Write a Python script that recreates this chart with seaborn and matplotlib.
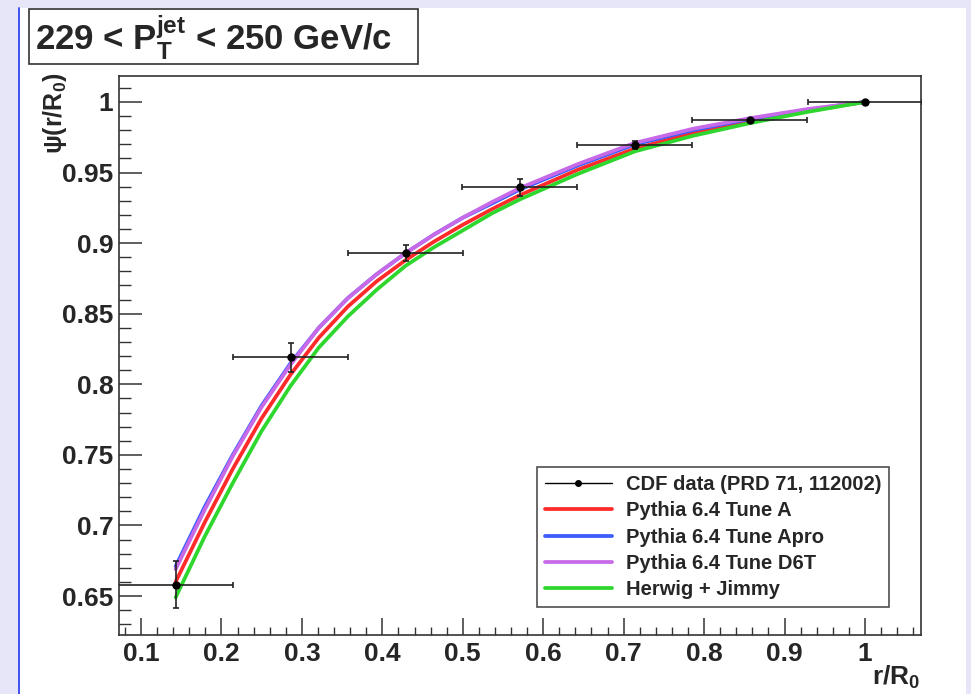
import numpy as np
import pandas as pd
import seaborn as sns
import matplotlib
matplotlib.use("Agg")
import matplotlib.pyplot as plt
from matplotlib.patches import Rectangle
from matplotlib.lines import Line2D
from matplotlib.ticker import MultipleLocator, FuncFormatter

# ---- CDF data: integrated jet shape, 229 < pT < 250 GeV/c ----
data_r = [0.143, 0.286, 0.429, 0.571, 0.714, 0.857, 1.0]
data_psi = [0.658, 0.819, 0.893, 0.9395, 0.9695, 0.987, 1.0]
data_psi_err = [0.0167, 0.0105, 0.006, 0.0058, 0.003, 0.0012, 0.0]
data_r_err = [0.0714, 0.0714, 0.0714, 0.0714, 0.0714, 0.0714, 0.0714]

# ---- Monte Carlo predictions ----
mc_r = [0.143, 0.179, 0.214, 0.25, 0.286, 0.321, 0.357, 0.393, 0.429, 0.464,
        0.5, 0.536, 0.571, 0.643, 0.714, 0.786, 0.857, 0.929, 1.0]
tune_a = [0.660, 0.702, 0.740, 0.776, 0.807, 0.833, 0.855, 0.873, 0.888, 0.901,
          0.913, 0.924, 0.934, 0.952, 0.967, 0.978, 0.987, 0.994, 1.0]
tune_apro = [0.671, 0.713, 0.750, 0.785, 0.815, 0.840, 0.861, 0.878, 0.893, 0.906,
             0.918, 0.928, 0.938, 0.955, 0.970, 0.980, 0.988, 0.9945, 1.0]
tune_d6t = [0.669, 0.711, 0.749, 0.784, 0.814, 0.840, 0.861, 0.878, 0.893, 0.906,
            0.918, 0.929, 0.939, 0.956, 0.971, 0.981, 0.9885, 0.995, 1.0]
herwig = [0.649, 0.692, 0.730, 0.767, 0.799, 0.826, 0.848, 0.867, 0.884, 0.897,
          0.909, 0.921, 0.931, 0.949, 0.965, 0.976, 0.985, 0.993, 1.0]

series_names = ["Pythia 6.4 Tune A", "Pythia 6.4 Tune Apro",
                "Pythia 6.4 Tune D6T", "Herwig + Jimmy"]
series_values = [tune_a, tune_apro, tune_d6t, herwig]
series_colors = ["#ff2a2a", "#3a5cff", "#c86ae8", "#2ed62e"]

data_label = "CDF data (PRD 71, 112002)"
title_text = r"229 < $\mathrm{P}_{\mathrm{T}}^{\mathrm{jet}}$ < 250 GeV/c"

x_ticks = [0.1, 0.2, 0.3, 0.4, 0.5, 0.6, 0.7, 0.8, 0.9, 1.0]
y_ticks = [0.65, 0.7, 0.75, 0.8, 0.85, 0.9, 0.95, 1.0]

mc = pd.DataFrame({
    "r": np.tile(mc_r, len(series_names)),
    "psi": np.concatenate(series_values),
    "model": np.repeat(series_names, len(mc_r)),
})

sns.set_theme(style="ticks")
plt.rcParams["font.family"] = ["Liberation Sans", "DejaVu Sans"]
plt.rcParams["font.weight"] = "bold"
plt.rcParams["mathtext.fontset"] = "custom"
plt.rcParams["mathtext.rm"] = "Liberation Sans:bold"
plt.rcParams["mathtext.it"] = "Liberation Sans:bold"
plt.rcParams["mathtext.bf"] = "Liberation Sans:bold"
plt.rcParams["mathtext.default"] = "rm"

W, H = 971, 694
fig = plt.figure(figsize=(W / 100, H / 100), dpi=100)
fig.patch.set_facecolor("white")

# lavender frame around the canvas and a blue left border
lav = "#e6e6f8"
fig.patches.append(Rectangle((0, 0), 18 / W, 1, transform=fig.transFigure,
                             facecolor=lav, edgecolor="none", zorder=0))
fig.patches.append(Rectangle((0, 1 - 8 / H), 1, 8 / H, transform=fig.transFigure,
                             facecolor=lav, edgecolor="none", zorder=0))
fig.patches.append(Rectangle((966 / W, 0), 5 / W, 1, transform=fig.transFigure,
                             facecolor=lav, edgecolor="none", zorder=0))
fig.lines.append(Line2D([18.5 / W, 18.5 / W], [0, 1 - 8 / H], transform=fig.transFigure,
                        color="#2f45ee", lw=1.3))

left, right, top, bottom = 119, 921, 76, 635
ax = fig.add_axes([left / W, 1 - bottom / H, (right - left) / W, (bottom - top) / H])
ax.set_facecolor("white")

for name, col in zip(series_names, series_colors):
    sns.lineplot(data=mc[mc["model"] == name], x="r", y="psi", ax=ax, color=col,
                 lw=2.7, sort=True, label=name, legend=False, zorder=3)

ax.errorbar(data_r, data_psi, xerr=data_r_err, yerr=data_psi_err, fmt="o",
            color="black", ecolor="#222222", elinewidth=1.2, capsize=2.5,
            capthick=1.2, markersize=5, zorder=5, label=data_label)

ax.set_xlim(0.0726, 1.0697)
ax.set_ylim(0.6224, 1.0184)

ax.xaxis.set_major_locator(MultipleLocator(0.1))
ax.xaxis.set_minor_locator(MultipleLocator(0.02))
ax.yaxis.set_major_locator(MultipleLocator(0.05))
ax.yaxis.set_minor_locator(MultipleLocator(0.01))
ax.set_xticks(x_ticks)
ax.set_yticks(y_ticks)
fmt = FuncFormatter(lambda v, p: f"{v:g}")
ax.xaxis.set_major_formatter(fmt)
ax.yaxis.set_major_formatter(fmt)

ax.tick_params(axis="x", which="major", direction="in", length=12, width=1.1,
               color="#333333", labelsize=19, pad=5)
ax.tick_params(axis="x", which="minor", direction="in", length=6, width=1.0,
               color="#333333")
ax.tick_params(axis="y", which="major", direction="in", length=16.5, width=1.1,
               color="#333333", labelsize=19, pad=4)
ax.tick_params(axis="y", which="minor", direction="in", length=8.5, width=1.0,
               color="#333333")
for lab in ax.get_xticklabels() + ax.get_yticklabels():
    lab.set_fontweight("bold")

for sp in ax.spines.values():
    sp.set_visible(True)
    sp.set_color("#333333")
    sp.set_linewidth(1.2)

ax.set_xlabel("")
ax.set_ylabel("")
fig.text(920 / W, 1 - 691 / H, r"r/R$_{0}$", ha="right", va="bottom",
         fontsize=19, fontweight="bold")
fig.text(55 / W, 1 - 72 / H, r"$\psi$(r/R$_{0}$)", ha="center", va="top",
         rotation=90, fontsize=18, fontweight="bold")

# title box
fig.text(35 / W, 1 - 38 / H, title_text, ha="left", va="center", fontsize=25,
         fontweight="bold")
fig.patches.append(Rectangle((29 / W, 1 - 64 / H), (418 - 29) / W, (64 - 9) / H,
                             transform=fig.transFigure, facecolor="none",
                             edgecolor="#333333", lw=1.2, zorder=5))

# legend
data_handle = Line2D([], [], color="black", lw=1.0, marker="o", markersize=4)
leg_handles = [data_handle] + [Line2D([], [], color=c, lw=2.7) for c in series_colors]
leg = ax.legend(leg_handles, [data_label] + series_names, loc="upper left",
                bbox_to_anchor=(537 / W, 1 - 467 / H), bbox_transform=fig.transFigure,
                prop={"weight": "bold", "size": 14.5}, frameon=True,
                fancybox=False, edgecolor="#222222", handlelength=3.3,
                handletextpad=0.7, labelspacing=0.36, borderpad=0.4,
                borderaxespad=0)
leg.get_frame().set_linewidth(1.2)

fig.savefig("out.png", dpi=100, facecolor=fig.get_facecolor())
